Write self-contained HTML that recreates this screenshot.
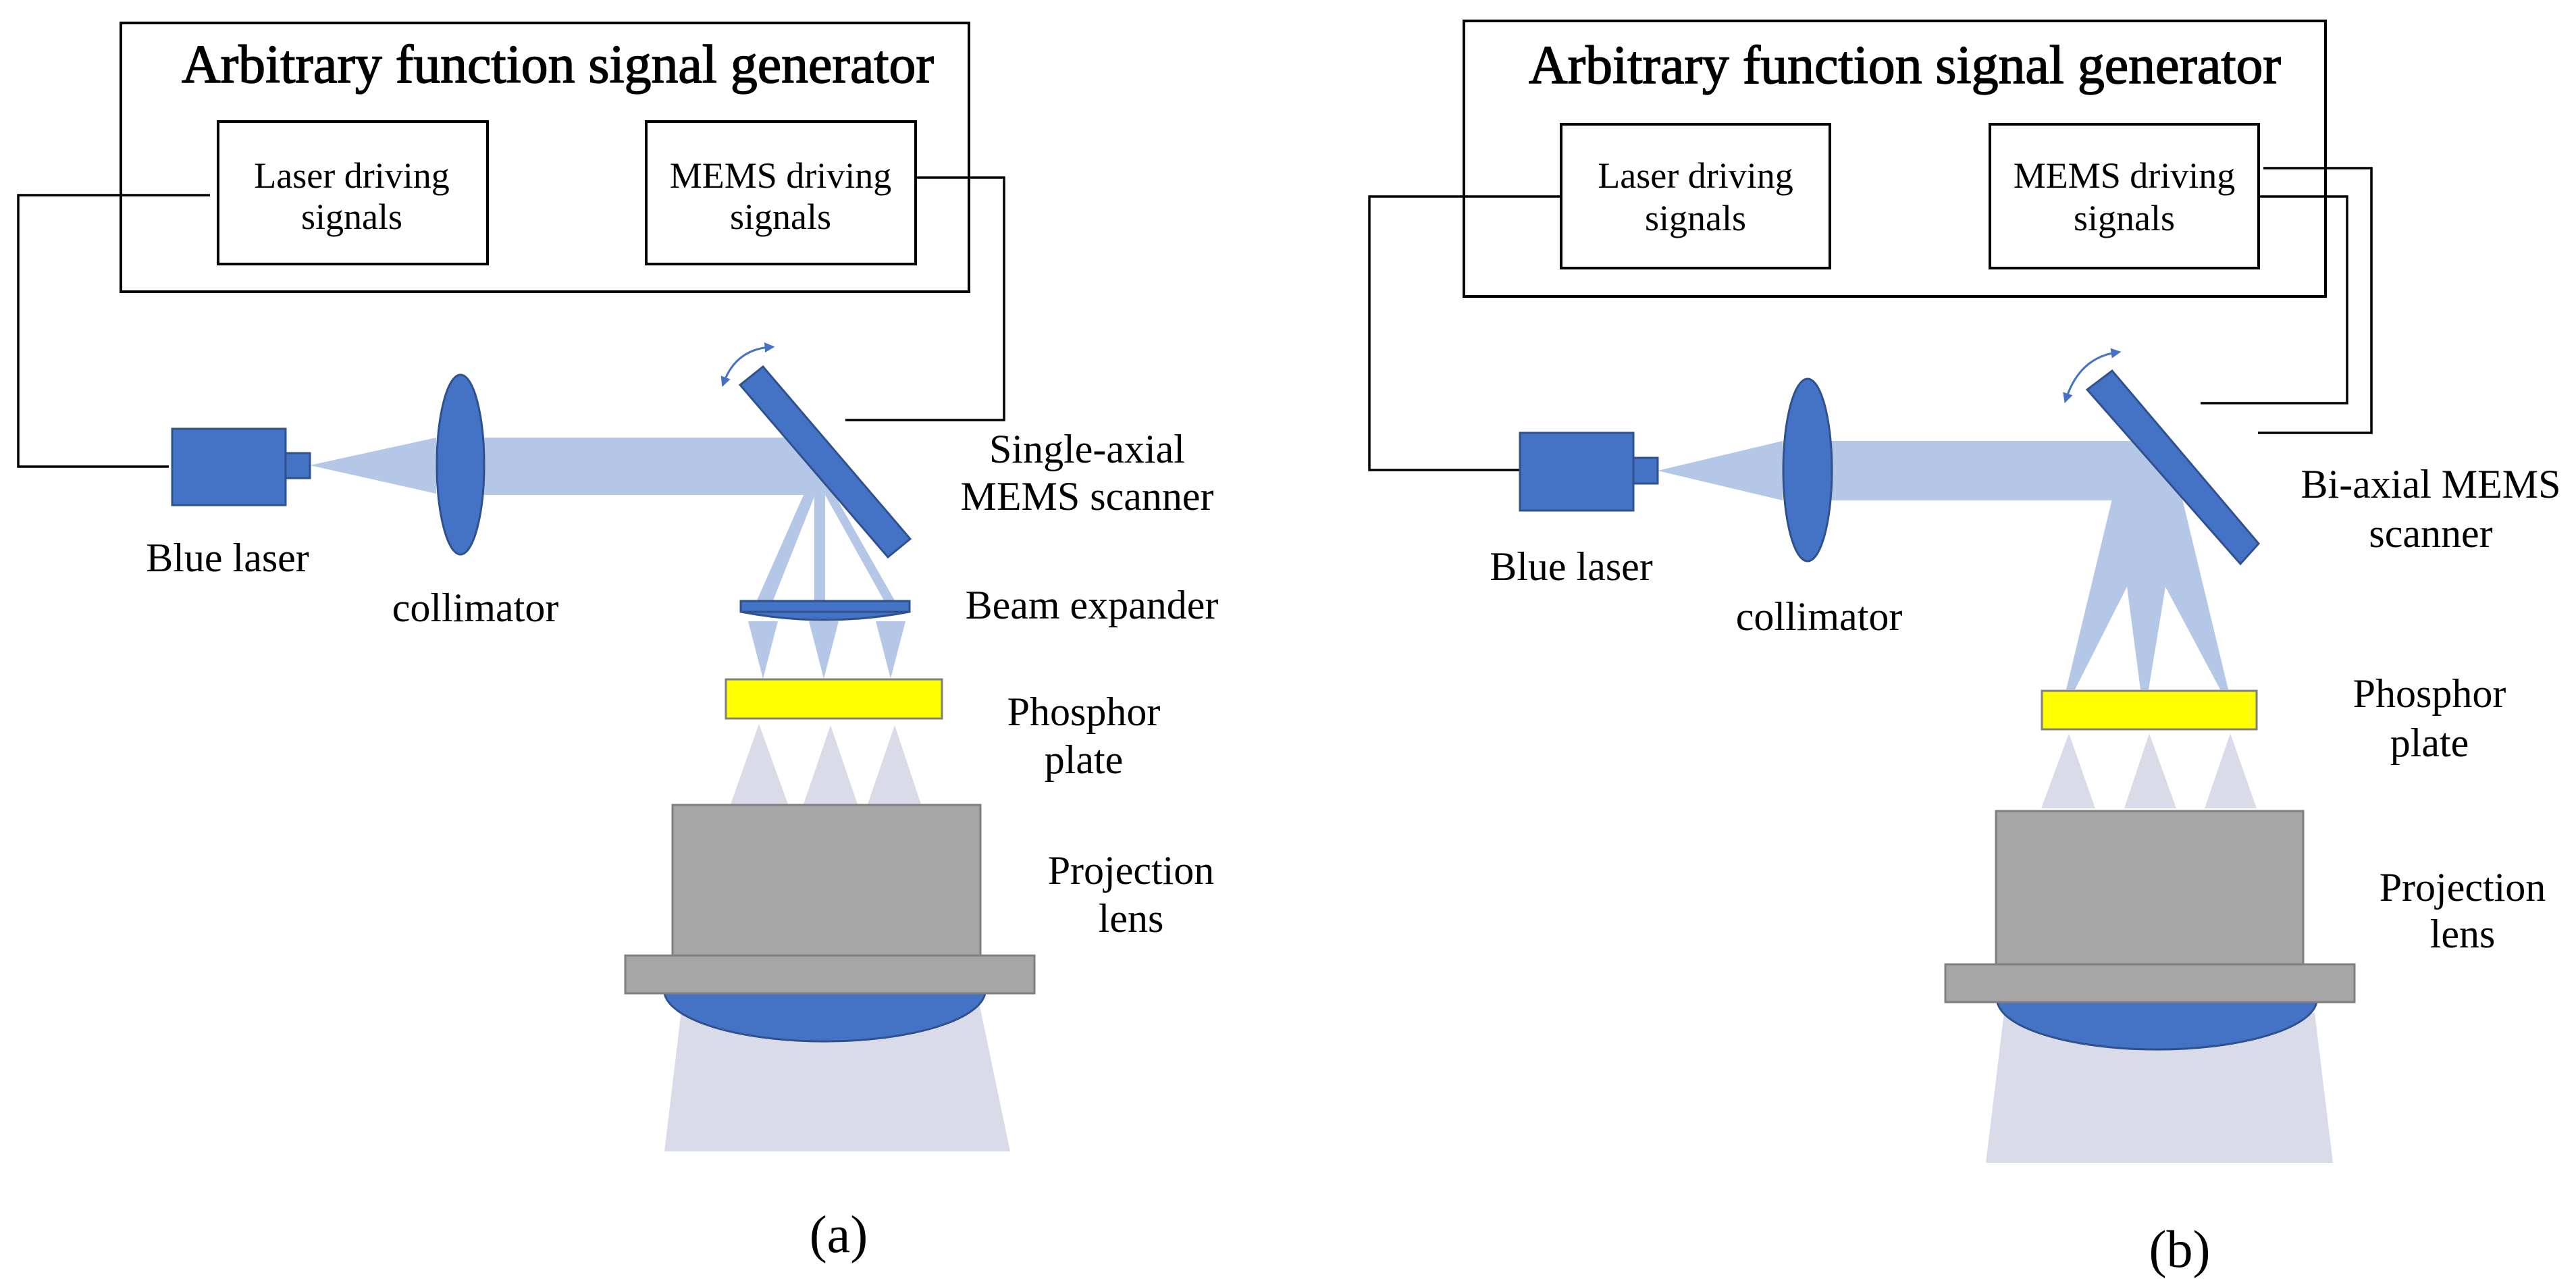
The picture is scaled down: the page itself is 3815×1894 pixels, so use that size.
<!DOCTYPE html>
<html><head><meta charset="utf-8"><style>
html,body{margin:0;padding:0;background:#fff;}
svg{display:block;}
svg text{font-family:"Liberation Serif","Times New Roman",serif !important;fill:#000;}
</style></head><body>
<svg width="3815" height="1894" viewBox="0 0 3815 1894" xmlns="http://www.w3.org/2000/svg" font-family="Liberation Serif, serif">
<defs>
<marker id="ah" viewBox="0 0 10 10" refX="5" refY="5" markerWidth="5" markerHeight="5" orient="auto-start-reverse"><path d="M0,0 L10,5 L0,10 z" fill="#4472c4"/></marker>
</defs>
<g fill="none" stroke="#000" stroke-width="4">
<rect x="179" y="34" width="1256" height="398"/>
<rect x="323" y="180" width="399" height="211"/>
<rect x="957" y="180" width="399" height="211"/>
<polyline points="311,289 27,289 27,691 250,691" stroke-width="3.5"/>
<polyline points="1356,263 1487,263 1487,622 1252,622" stroke-width="3.5"/>
<rect x="2168" y="31" width="1276" height="408"/>
<rect x="2312" y="184" width="398" height="213"/>
<rect x="2947" y="184" width="398" height="213"/>
<polyline points="2312,291 2028,291 2028,696 2251,696" stroke-width="3.5"/>
<polyline points="3352,249 3512,249 3512,641 3344,641" stroke-width="3.5"/>
<polyline points="3345,291 3476,291 3476,597 3259,597" stroke-width="3.5"/>
</g>
<text font-family="Liberation Serif, serif" x="826" y="122" font-size="80" text-anchor="middle" textLength="1114" lengthAdjust="spacingAndGlyphs" stroke="#000" stroke-width="1.5">Arbitrary function signal generator</text>
<text font-family="Liberation Serif, serif" x="2821" y="123" font-size="80" text-anchor="middle" textLength="1114" lengthAdjust="spacingAndGlyphs" stroke="#000" stroke-width="1.5">Arbitrary function signal generator</text>
<g font-size="54" text-anchor="middle" font-family="Liberation Serif, serif">
<text x="521" y="278">Laser driving</text><text x="521" y="339">signals</text>
<text x="1156" y="278">MEMS driving</text><text x="1156" y="339">signals</text>
<text x="2511" y="278">Laser driving</text><text x="2511" y="341">signals</text>
<text x="3146" y="278">MEMS driving</text><text x="3146" y="341">signals</text>
</g>

<polygon points="459,689 646,648 646,731" fill="#b4c7e7"/>
<polygon points="700,648 1163,648 1236,733 700,733" fill="#b4c7e7"/>
<polygon points="1190,733 1207,733 1145,889 1121,889" fill="#b4c7e7"/>
<rect x="1206" y="733" width="16" height="156" fill="#b4c7e7"/>
<polygon points="1222,733 1236,733 1325,889 1309,889" fill="#b4c7e7"/>
<path d="M1097,906 Q1222,930 1347,906 Z" fill="#4472c4" stroke="#2f528f" stroke-width="3"/>
<rect x="1097" y="890" width="250" height="16" fill="#4472c4" stroke="#2f528f" stroke-width="3"/>
<polygon points="1108,920 1152,920 1130,1005" fill="#b4c7e7"/>
<polygon points="1198,920 1242,920 1220,1005" fill="#b4c7e7"/>
<polygon points="1297,920 1341,920 1319,1005" fill="#b4c7e7"/>
<rect x="1075" y="1006" width="320" height="58" fill="#ffff00" stroke="#808080" stroke-width="3"/>
<g fill="#d9dce8">
<polygon points="1124,1072 1167,1191 1082,1191"/>
<polygon points="1230,1074 1270,1191 1190,1191"/>
<polygon points="1325,1074 1364,1191 1285,1191"/>
<polygon points="1011,1480 1449,1480 1496,1705 984,1705"/>
</g>
<path d="M984,1471 A238,76 0 0 0 1459,1471 Z" fill="#4472c4" stroke="#2f528f" stroke-width="3"/>
<rect x="996" y="1192" width="456" height="223" fill="#a6a6a6" stroke="#7f7f7f" stroke-width="3"/>
<rect x="926" y="1415" width="606" height="56" fill="#a6a6a6" stroke="#7f7f7f" stroke-width="3"/>
<rect x="255" y="635" width="168" height="113" fill="#4472c4" stroke="#2f528f" stroke-width="3"/>
<rect x="423" y="671" width="36" height="37" fill="#4472c4" stroke="#2f528f" stroke-width="3"/>
<ellipse cx="682" cy="688" rx="35" ry="133" fill="#4472c4" stroke="#2f528f" stroke-width="3"/>
<polygon points="1096,570 1130,543 1348,798 1315,825" fill="#4472c4" stroke="#2f528f" stroke-width="3"/>
<path d="M1072,566 Q1090,518 1140,514" fill="none" stroke="#4472c4" stroke-width="3" marker-start="url(#ah)" marker-end="url(#ah)"/>

<polygon points="2455,697 2640,653 2640,741" fill="#b4c7e7"/>
<polygon points="2700,653 3158,653 3232,739 3128,741 2700,741" fill="#b4c7e7"/>
<polygon points="3128,739 3232,739 3300,1021 3288,1021 3207,869 3182,1021 3170,1021 3150,869 3073,1021 3060,1021" fill="#b4c7e7"/>
<rect x="3024" y="1023" width="318" height="57" fill="#ffff00" stroke="#808080" stroke-width="3"/>
<g fill="#d9dce8">
<polygon points="3064,1086 3103,1197 3023,1197"/>
<polygon points="3183,1086 3223,1197 3146,1197"/>
<polygon points="3303,1086 3342,1197 3265,1197"/>
<polygon points="2968,1500 3428,1500 3455,1722 2941,1722"/>
</g>
<path d="M2958,1484 A237,75 0 0 0 3431,1484 Z" fill="#4472c4" stroke="#2f528f" stroke-width="3"/>
<rect x="2956" y="1201" width="455" height="227" fill="#a6a6a6" stroke="#7f7f7f" stroke-width="3"/>
<rect x="2881" y="1428" width="606" height="56" fill="#a6a6a6" stroke="#7f7f7f" stroke-width="3"/>
<rect x="2251" y="641" width="168" height="115" fill="#4472c4" stroke="#2f528f" stroke-width="3"/>
<rect x="2419" y="678" width="36" height="38" fill="#4472c4" stroke="#2f528f" stroke-width="3"/>
<ellipse cx="2677" cy="696" rx="36" ry="135" fill="#4472c4" stroke="#2f528f" stroke-width="3"/>
<polygon points="3091,577 3128,549 3345,805 3318,835" fill="#4472c4" stroke="#2f528f" stroke-width="3"/>
<path d="M3060,590 Q3080,530 3134,522" fill="none" stroke="#4472c4" stroke-width="3" marker-start="url(#ah)" marker-end="url(#ah)"/>

<g font-size="60" text-anchor="middle" font-family="Liberation Serif, serif">
<text x="337" y="846">Blue laser</text>
<text x="704" y="920">collimator</text>
<text x="1610" y="685">Single-axial</text>
<text x="1610" y="755">MEMS scanner</text>
<text x="1617" y="916">Beam expander</text>
<text x="1605" y="1074">Phosphor</text>
<text x="1605" y="1145">plate</text>
<text x="1675" y="1309">Projection</text>
<text x="1675" y="1380">lens</text>
<text x="2327" y="859">Blue laser</text>
<text x="2694" y="933">collimator</text>
<text x="3600" y="737">Bi-axial MEMS</text>
<text x="3600" y="810">scanner</text>
<text x="3598" y="1047">Phosphor</text>
<text x="3598" y="1120">plate</text>
<text x="3647" y="1334">Projection</text>
<text x="3647" y="1403">lens</text>
</g>
<text font-family="Liberation Serif, serif" x="1242" y="1854" font-size="78" text-anchor="middle">(a)</text>
<text font-family="Liberation Serif, serif" x="3228" y="1876" font-size="78" text-anchor="middle">(b)</text>
</svg>
</body></html>
